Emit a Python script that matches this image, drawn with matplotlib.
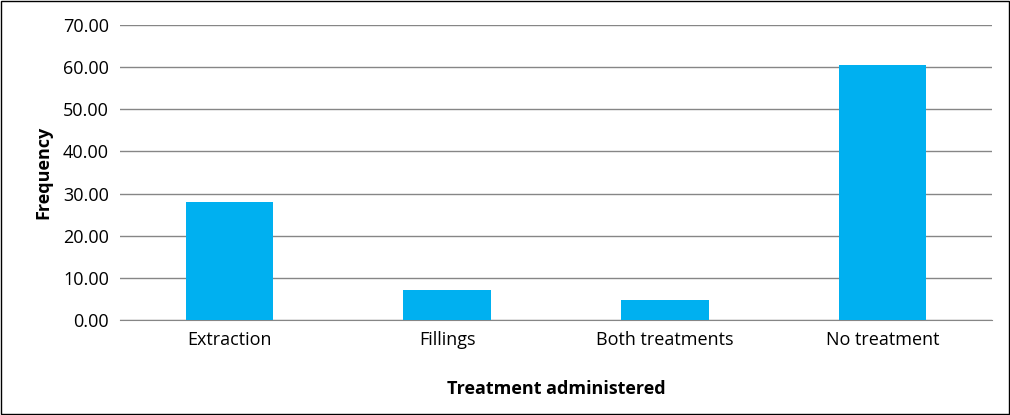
import matplotlib.pyplot as plt
from matplotlib.patches import Rectangle

categories = ["Extraction", "Fillings", "Both treatments", "No treatment"]
values = [28.0, 7.1, 4.7, 60.5]
yticks = [0, 10, 20, 30, 40, 50, 60, 70]

plt.rcParams["font.family"] = "Open Sans"
fig = plt.figure(figsize=(10.1, 4.15), dpi=100)
ax = fig.add_axes([0.119, 0.229, 0.863, 0.711])
ax.bar(range(len(categories)), values, width=0.4, color="#00b0f0", zorder=3)
ax.set_xlim(-0.5, len(categories) - 0.5)
ax.set_ylim(0, 70)
ax.set_yticks(yticks)
ax.set_yticklabels([f"{v:.2f}" for v in yticks], fontsize=13)
ax.set_xticks(range(len(categories)))
ax.set_xticklabels(categories, fontsize=13)
ax.tick_params(axis="both", length=0, pad=8)
ax.grid(axis="y", color="#868686", linewidth=1, zorder=0)
for s in ["top", "right", "left"]:
    ax.spines[s].set_visible(False)
ax.spines["bottom"].set_color("#868686")
ax.set_ylabel("Frequency", fontsize=13, fontweight="bold", labelpad=8)
ax.set_xlabel("Treatment administered", fontsize=13, fontweight="bold", labelpad=22)
fig.patches.append(Rectangle((0.001, 0.002), 0.998, 0.996, transform=fig.transFigure,
                             fill=False, edgecolor="black", linewidth=1))
fig.savefig("out.png", dpi=100)
